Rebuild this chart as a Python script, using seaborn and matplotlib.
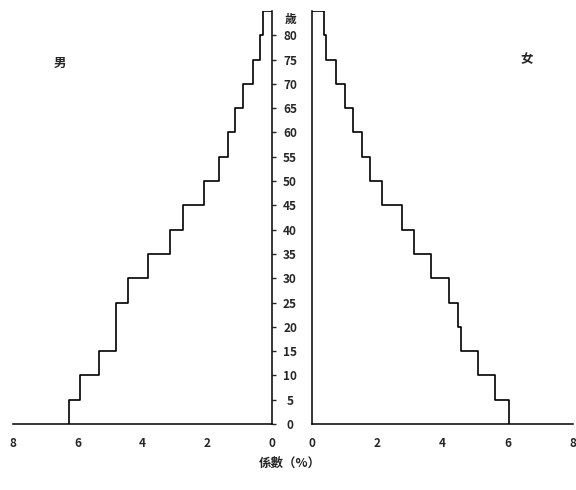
import numpy as np
import pandas as pd
import seaborn as sns
import matplotlib
matplotlib.use('Agg')
import matplotlib.pyplot as plt

# age bands (lower bound), 5-year groups, last is 80-85
age_lower = [0, 5, 10, 15, 20, 25, 30, 35, 40, 45, 50, 55, 60, 65, 70, 75, 80]
male_pct = [6.26, 5.92, 5.33, 4.83, 4.81, 4.44, 3.82, 3.16, 2.76, 2.11,
            1.64, 1.36, 1.15, 0.90, 0.59, 0.37, 0.28]
female_pct = [6.03, 5.62, 5.09, 4.58, 4.48, 4.21, 3.64, 3.13, 2.77, 2.15,
              1.77, 1.53, 1.27, 1.02, 0.74, 0.44, 0.36]
age_ticks = list(range(0, 85, 5))
pct_ticks = [0, 2, 4, 6, 8]


def step_frame(values):
    # vertical segment for each age band, joined by horizontal steps
    xs, ys = [], []
    for a, v in zip(age_lower, values):
        xs += [v, v]
        ys += [a, a + 5]
    xs.append(0)
    ys.append(age_lower[-1] + 5)
    return pd.DataFrame({'pct': xs, 'age': ys})


sns.set_style('white')
plt.rcParams['font.family'] = ['Noto Sans CJK TC', 'DejaVu Sans']
plt.rcParams['font.weight'] = 'bold'

fig = plt.figure(figsize=(5.76, 4.9), dpi=100)
ax_m = fig.add_axes([13 / 576, 66 / 490, 259 / 576, 413 / 490])
ax_f = fig.add_axes([312 / 576, 66 / 490, 261 / 576, 413 / 490])

sns.lineplot(data=step_frame(male_pct), x='pct', y='age', sort=False,
             estimator=None, color='black', lw=1.2, ax=ax_m)
sns.lineplot(data=step_frame(female_pct), x='pct', y='age', sort=False,
             estimator=None, color='black', lw=1.2, ax=ax_f)

for ax in (ax_m, ax_f):
    ax.set_ylim(0, 85)
    ax.set_xlabel('')
    ax.set_ylabel('')
    ax.set_yticks(age_ticks)
    ax.set_xticks(pct_ticks)
    ax.set_xticklabels([str(t) for t in pct_ticks], fontsize=8.5, fontweight='bold')
    ax.spines['top'].set_visible(False)
    ax.tick_params(axis='x', direction='in', length=3, width=1, pad=9)
    for s in ax.spines.values():
        s.set_linewidth(1.1)
        s.set_color('black')

ax_m.set_xlim(8, 0)
ax_m.spines['left'].set_visible(False)
ax_m.yaxis.tick_right()
ax_m.tick_params(axis='y', direction='out', length=3, width=1, pad=10)
ax_m.set_yticklabels([str(t) for t in age_ticks], fontsize=8.5,
                     fontweight='bold', ha='center')

ax_f.set_xlim(0, 8)
ax_f.spines['right'].set_visible(False)
ax_f.tick_params(axis='y', direction='out', length=3, width=1, labelleft=False)

fig.text(60 / 576, 1 - 63 / 490, '男', fontsize=9, fontweight='bold', ha='center', va='center')
fig.text(527 / 576, 1 - 60 / 490, '女', fontsize=9, fontweight='bold', ha='center', va='center')
fig.text(291 / 576, 1 - 19 / 490, '歲', fontsize=8.5, fontweight='bold', ha='center', va='center')
fig.text(290 / 576, 1 - 463 / 490, '係數（%）', fontsize=9, fontweight='bold', ha='center', va='center')

fig.savefig('out.png', dpi=100)
